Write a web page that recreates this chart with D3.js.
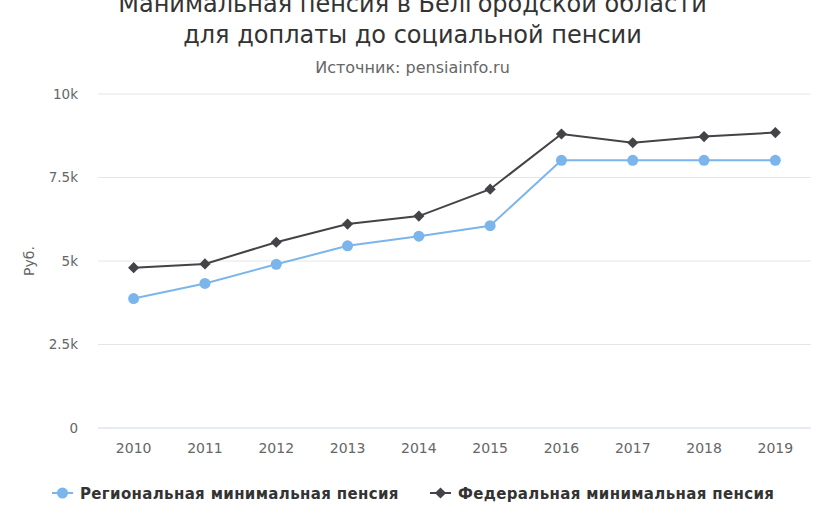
<!DOCTYPE html>
<html>
<head>
    <meta charset='utf-8'>
    <title>Минимальная пенсия</title>
    <script src='https://d3js.org/d3.v7.min.js'></script>
    <style>
        body { margin: 0; background: #fff; }
        text { font-family: 'DejaVu Sans', sans-serif; }
    </style>
</head>
<body>
<div id='chart'></div>
<script type='text/javascript'>
    // данные
    const years = ['2010', '2011', '2012', '2013', '2014', '2015', '2016', '2017', '2018', '2019'];
    const regional = [3876, 4327, 4900, 5454, 5743, 6056, 8016, 8016, 8016, 8016];
    const federal = [4800, 4912, 5562, 6105, 6345, 7150, 8803, 8540, 8726, 8846];
    const yTicks = [0, 2500, 5000, 7500, 10000];
    const yTickLabels = ['0', '2.5k', '5k', '7.5k', '10k'];
    const seriesNames = ['Региональная минимальная пенсия', 'Федеральная минимальная пенсия'];

    let W = 825, H = 510;
    let margin = {top: 94, right: 14, bottom: 82, left: 98};
    let w = W - margin.left - margin.right;
    let h = H - margin.top - margin.bottom;

    let root = d3.select('#chart')
        .append('svg')
            .attr('width', W)
            .attr('height', H);

    // заголовок
    root.append('text')
        .attr('x', W / 2).attr('y', 12)
        .attr('text-anchor', 'middle')
        .attr('font-size', '24px')
        .attr('fill', '#333')
        .text('Манимальная пенсия в Белгородской области');
    root.append('text')
        .attr('x', W / 2).attr('y', 43)
        .attr('text-anchor', 'middle')
        .attr('font-size', '24px')
        .attr('fill', '#333')
        .text('для доплаты до социальной пенсии');
    root.append('text')
        .attr('x', W / 2).attr('y', 73)
        .attr('text-anchor', 'middle')
        .attr('font-size', '16px')
        .attr('fill', '#666')
        .text('Источник: pensiainfo.ru');

    let svg = root.append('g')
        .attr('transform', `translate(${margin.left},${margin.top})`);

    let xScale = d3.scaleBand().domain(years).range([0, w]);
    let yScale = d3.scaleLinear().domain([0, 10000]).range([h, 0]);

    // сетка
    svg.append('g')
        .selectAll('line')
        .data(yTicks)
        .enter()
        .append('line')
            .attr('x1', 0).attr('x2', w)
            .attr('y1', d => yScale(d)).attr('y2', d => yScale(d))
            .attr('stroke', d => d === 0 ? '#ccd6eb' : '#e6e6e6')
            .attr('stroke-width', 1);

    // ось Y
    let yAxis = d3.axisLeft(yScale)
        .tickValues(yTicks)
        .tickFormat((d, i) => yTickLabels[i])
        .tickSize(0)
        .tickPadding(20);
    let gy = svg.append('g').call(yAxis);
    gy.select('.domain').remove();
    gy.selectAll('text')
        .attr('font-family', "'DejaVu Sans', sans-serif")
        .attr('font-size', '13.5px')
        .attr('fill', '#666');

    root.append('text')
        .attr('transform', `translate(34,${margin.top + yScale(5000)}) rotate(-90)`)
        .attr('text-anchor', 'middle')
        .attr('font-size', '14px')
        .attr('fill', '#666')
        .text('Руб.');

    // ось X
    let xAxis = d3.axisBottom(xScale).tickSize(0).tickPadding(15);
    let gx = svg.append('g')
        .attr('transform', `translate(0,${h})`)
        .call(xAxis);
    gx.select('.domain').remove();
    gx.selectAll('text')
        .attr('font-family', "'DejaVu Sans', sans-serif")
        .attr('font-size', '14px')
        .attr('fill', '#666');

    const cx = d => xScale(d) + xScale.bandwidth() / 2;
    let line = d3.line().x(d => cx(d[0])).y(d => yScale(d[1]));

    // региональная
    let regData = years.map((y, i) => [y, regional[i]]);
    svg.append('path')
        .datum(regData)
        .attr('d', line)
        .attr('fill', 'none')
        .attr('stroke', '#7cb5ec')
        .attr('stroke-width', 2);
    svg.selectAll('.reg')
        .data(regData)
        .enter()
        .append('circle')
            .attr('class', 'reg')
            .attr('cx', d => cx(d[0]))
            .attr('cy', d => yScale(d[1]))
            .attr('r', 5.5)
            .attr('fill', '#7cb5ec');

    // федеральная
    let fedData = years.map((y, i) => [y, federal[i]]);
    let diamond = d3.symbol().type(d3.symbolDiamond2).size(80);
    svg.append('path')
        .datum(fedData)
        .attr('d', line)
        .attr('fill', 'none')
        .attr('stroke', '#434348')
        .attr('stroke-width', 2);
    svg.selectAll('.fed')
        .data(fedData)
        .enter()
        .append('path')
            .attr('class', 'fed')
            .attr('d', diamond)
            .attr('transform', d => `translate(${cx(d[0])},${yScale(d[1])})`)
            .attr('fill', '#434348');

    // легенда
    let legend = root.append('g');
    const legendItems = [
        {name: seriesNames[0], color: '#7cb5ec', x: 52, sym: 'circle'},
        {name: seriesNames[1], color: '#434348', x: 430, sym: 'diamond'}
    ];
    legendItems.forEach(it => {
        let g = legend.append('g').attr('transform', `translate(${it.x},493)`);
        g.append('line')
            .attr('x1', 0).attr('x2', 21)
            .attr('stroke', it.color).attr('stroke-width', 2);
        if (it.sym === 'circle') {
            g.append('circle').attr('cx', 10.5).attr('r', 5.5).attr('fill', it.color);
        } else {
            g.append('path').attr('d', diamond).attr('transform', 'translate(10.5,0)').attr('fill', it.color);
        }
        g.append('text')
            .attr('x', 28).attr('y', 5.5)
            .attr('font-size', '15px')
            .attr('font-weight', 'bold')
            .attr('letter-spacing', '0.35px')
            .attr('fill', '#333')
            .text(it.name);
    });
</script>
</body>
</html>
